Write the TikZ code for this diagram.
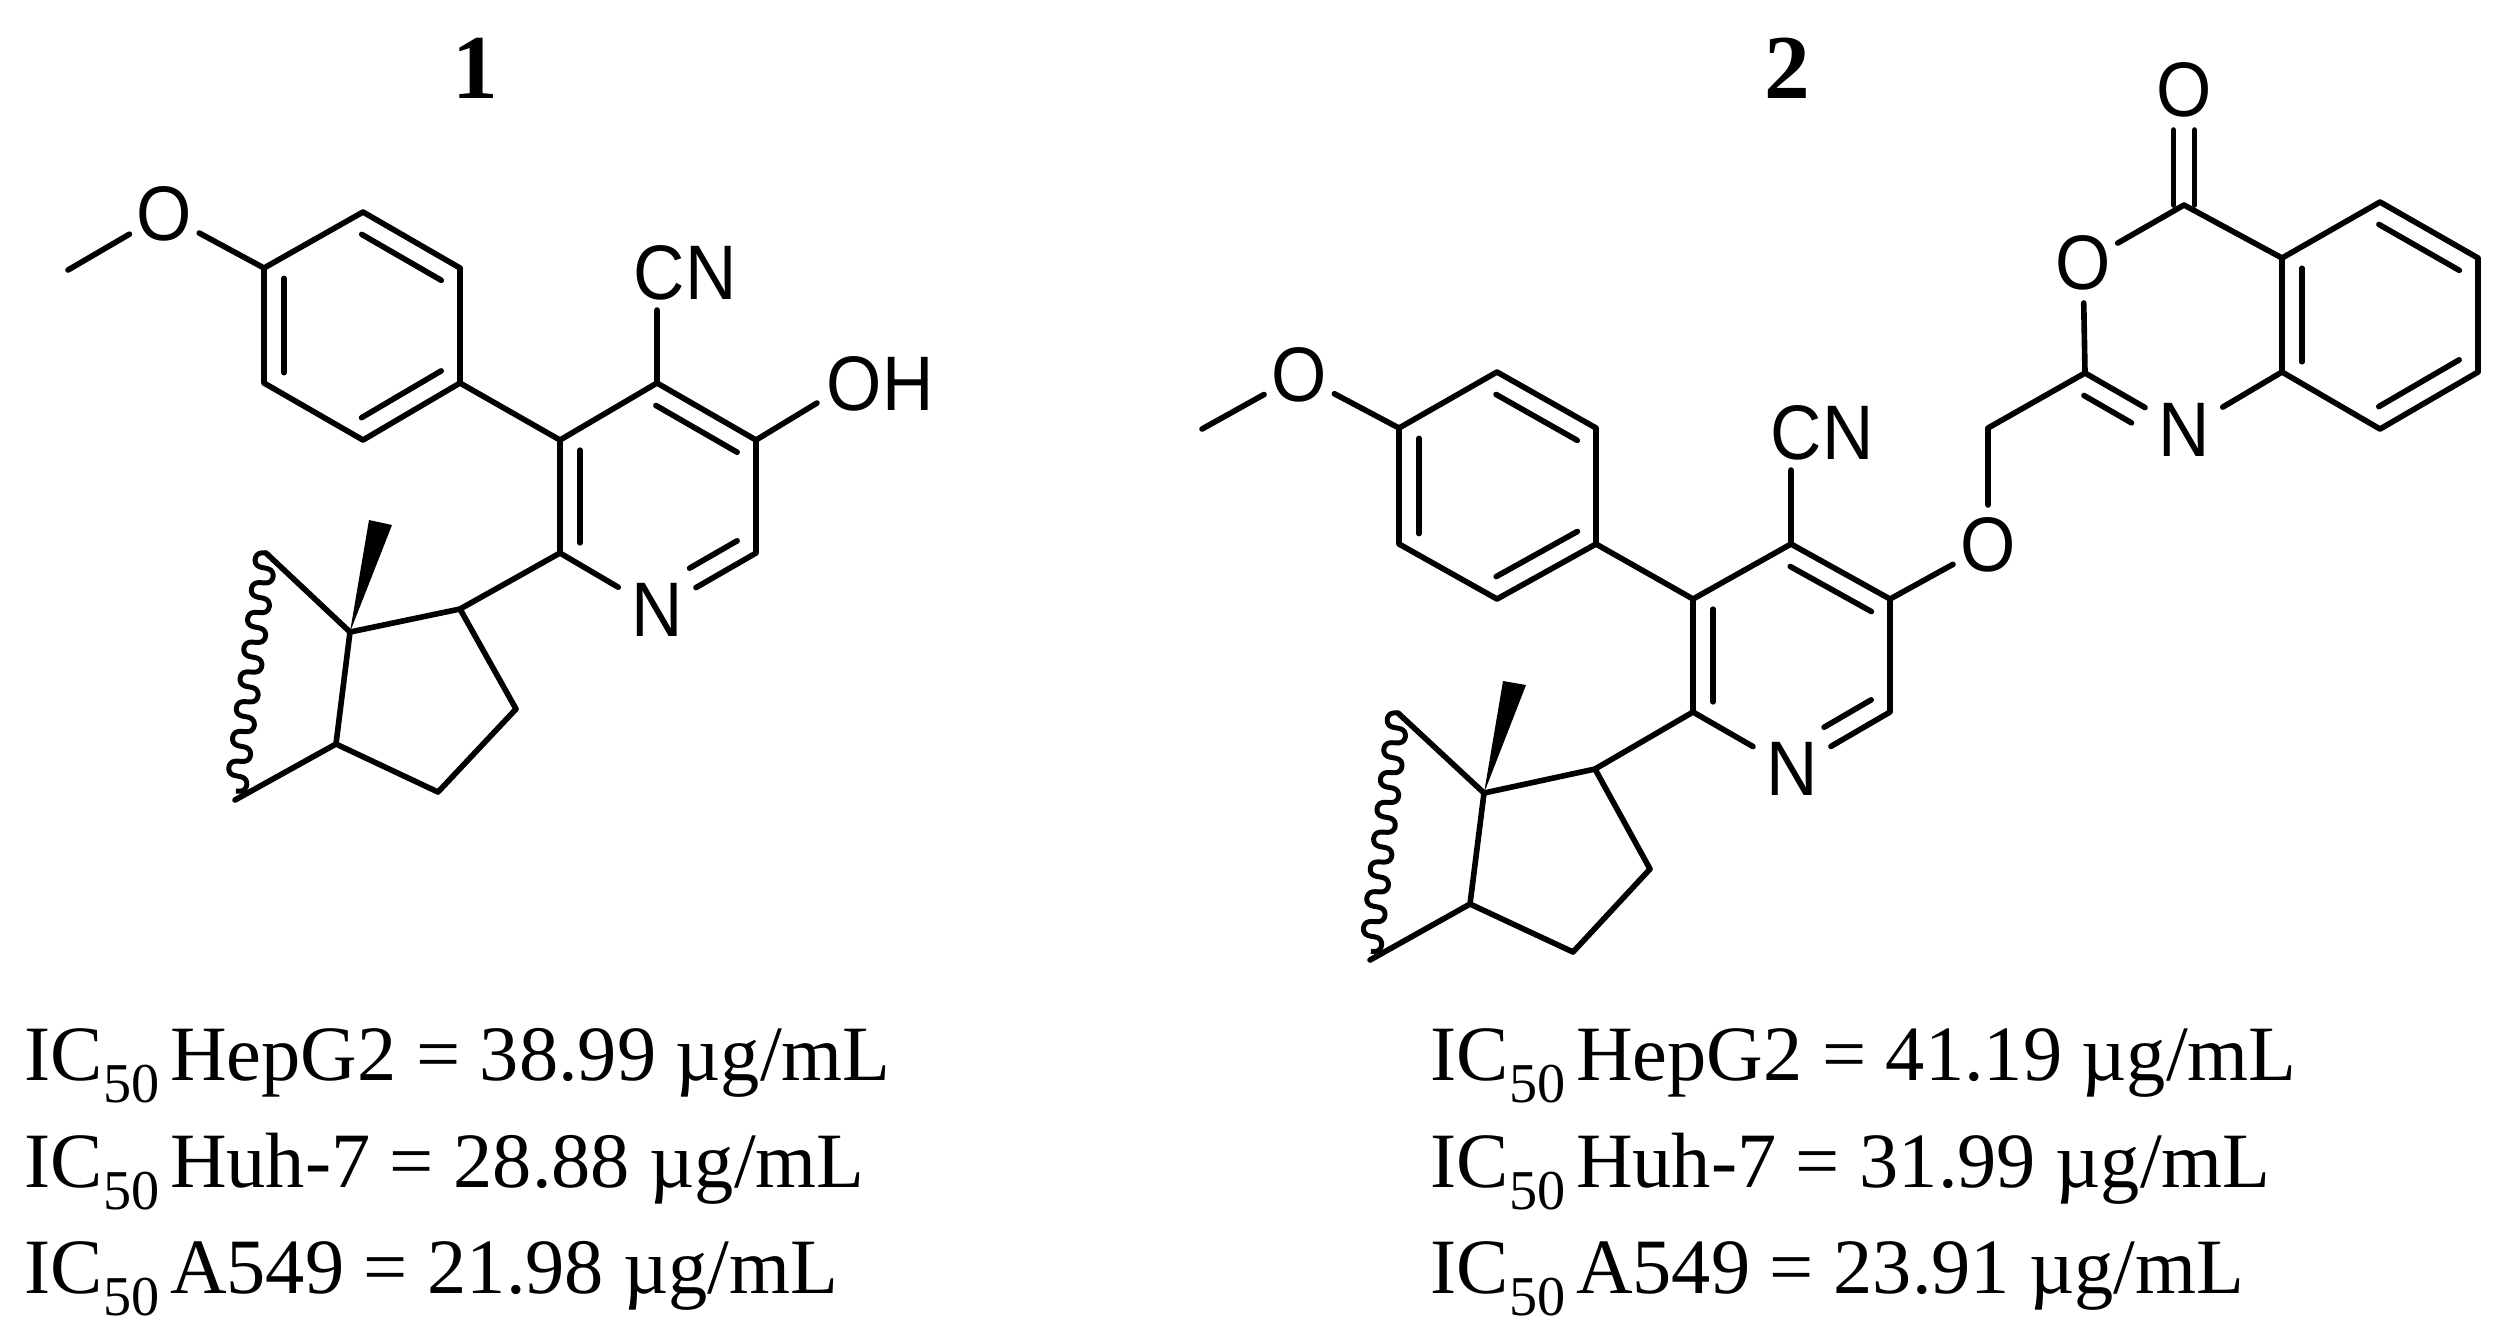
\documentclass[tikz,border=0pt]{standalone}
\usepackage{fontspec}
\setmainfont{Liberation Serif}
\newfontfamily\atomfont[FakeStretch=0.92]{Liberation Sans}
\usetikzlibrary{calc}
\tikzset{
  bond/.style={line width=1.6pt, line cap=round, line join=round},
  wavy/.style={line width=1.4pt, line join=round},
  atom/.style={circle, inner sep=0pt, outer sep=0pt, minimum size=8mm, font=\atomfont\fontsize{22}{22}\selectfont},
  group/.style={inner sep=0pt, font=\atomfont\fontsize{22}{22}\selectfont},
  title/.style={inner sep=0pt, font=\bfseries\fontsize{26}{26}\selectfont},
  ictext/.style={anchor=base west, inner sep=0pt, font=\fontsize{22.3}{22.3}\selectfont},
}
\newcommand{\icfifty}{IC\raisebox{-6.5pt}{\fontsize{16}{16}\selectfont 50}\hspace{-2.5pt}}
% second line of a double bond, a to b clockwise round the ring
\newcommand{\innerbond}[3][.09]{\draw[bond] ($(#2)!.09!(#3)!2mm!-90:(#3)$) -- ($(#3)!#1!(#2)!2mm!90:(#2)$);}
% cut mark: from a coordinate, at an angle
\newcommand{\cutmark}[2]{\draw[wavy, shift={(#1)}, rotate=#2] plot[smooth, domain=0:2880, samples=193] ({0.0833*\x-2.2*sin(2*\x)},{10*sin(\x)});}

\begin{document}
\begin{tikzpicture}[x=0.1mm, y=-0.1mm]
  \useasboundingbox (0,0) rectangle (2501,1337);

  \node[title] (t1) at (475,68) {1};
  \node[title] (t2) at (1787,68) {2};

  % compound 1
  \node[atom] (aO) at (164,214) {O};
  \node[atom, minimum size=9mm] (aN) at (657,610) {N};
  \node[group] (aCN) at (685,273) {CN};
  \node[group] (aOH) at (880,384) {OH};
  \coordinate (aMe) at (68,270);
  \coordinate (ar1) at (264,268);
  \coordinate (ar2) at (363,212);
  \coordinate (ar3) at (460,268);
  \coordinate (ar4) at (460,383);
  \coordinate (ar5) at (363,440);
  \coordinate (ar6) at (264,383);
  \coordinate (ap1) at (560,440);
  \coordinate (ap2) at (657,383);
  \coordinate (ap3) at (756,440);
  \coordinate (ap4) at (756,553);
  \coordinate (ap6) at (560,553);
  \coordinate (acnend) at (657,310);
  \coordinate (aohend) at (817,403);
  \coordinate (ac1) at (460,609);
  \coordinate (ac2) at (516,709);
  \coordinate (ac3) at (438,792);
  \coordinate (ac4) at (336,744);
  \coordinate (ac5) at (350,632);
  \coordinate (aw1) at (369,520);
  \coordinate (aw2) at (392,525);
  \coordinate (at1) at (266,553);
  \coordinate (at2) at (235,800);

  \draw[bond] (aMe) -- (aO) (aO) -- (ar1) (ar1) -- (ar2) (ar2) -- (ar3) (ar3) -- (ar4)
        (ar4) -- (ar5) (ar5) -- (ar6) (ar6) -- (ar1) (ar4) -- (ap1) (ap1) -- (ap2)
        (ap2) -- (ap3) (ap3) -- (ap4) (ap4) -- (aN) (aN) -- (ap6) (ap6) -- (ap1)
        (ap2) -- (acnend) (ap3) -- (aohend) (ap6) -- (ac1) (ac1) -- (ac2) (ac2) -- (ac3)
        (ac3) -- (ac4) (ac4) -- (ac5) (ac5) -- (ac1) (ac5) -- (at1) (ac4) -- (at2);
  \innerbond{ar2}{ar3}
  \innerbond{ar4}{ar5}
  \innerbond{ar6}{ar1}
  \innerbond{ap2}{ap3}
  \innerbond[.43]{ap4}{aN}
  \innerbond{ap6}{ap1}
  \fill (ac5) -- (aw1) -- (aw2) -- cycle;
  \cutmark{at1}{-97.2}

  % compound 2
  \node[atom] (bO) at (1299,375) {O};
  \node[atom, minimum size=9mm] (bN) at (1792,769) {N};
  \node[group] (bCN) at (1822,433) {CN};
  \node[atom] (bO2) at (1988,545) {O};
  \node[atom] (bO3) at (2083,263) {O};
  \node[atom] (bO4) at (2184,90) {O};
  \node[atom, minimum size=9mm] (bN2) at (2184,430) {N};
  \coordinate (bMe) at (1202,429);
  \coordinate (br1) at (1399,428);
  \coordinate (br2) at (1497,372);
  \coordinate (br3) at (1596,428);
  \coordinate (br4) at (1596,544);
  \coordinate (br5) at (1497,599);
  \coordinate (br6) at (1399,544);
  \coordinate (bp1) at (1693,599);
  \coordinate (bp2) at (1791,544);
  \coordinate (bp3) at (1890,599);
  \coordinate (bp4) at (1890,712);
  \coordinate (bp6) at (1693,712);
  \coordinate (bcnend) at (1791,470);
  \coordinate (bch) at (1988,428);
  \coordinate (bq1) at (2085,373);
  \coordinate (bq2) at (2184,205);
  \coordinate (bq3) at (2282,258);
  \coordinate (bq4) at (2282,372);
  \coordinate (bz1) at (2380,202);
  \coordinate (bz2) at (2478,258);
  \coordinate (bz3) at (2478,372);
  \coordinate (bz4) at (2380,429);
  \coordinate (bc1) at (1595,769);
  \coordinate (bc2) at (1650,869);
  \coordinate (bc3) at (1573,952);
  \coordinate (bc4) at (1470,904);
  \coordinate (bc5) at (1484,793);
  \coordinate (bw1) at (1503,681);
  \coordinate (bw2) at (1526,685);
  \coordinate (bt1) at (1398,713);
  \coordinate (bt2) at (1370,960);

  \draw[bond] (bMe) -- (bO) (bO) -- (br1) (br1) -- (br2) (br2) -- (br3) (br3) -- (br4)
        (br4) -- (br5) (br5) -- (br6) (br6) -- (br1) (br4) -- (bp1) (bp1) -- (bp2)
        (bp2) -- (bp3) (bp3) -- (bp4) (bp4) -- (bN) (bN) -- (bp6) (bp6) -- (bp1)
        (bp2) -- (bcnend) (bp3) -- (bO2) (bO2) -- (bch) (bch) -- (bq1) (bq1) -- (bO3)
        (bO3) -- (bq2) (bq2) -- (bq3) (bq3) -- (bq4) (bq4) -- (bN2) (bN2) -- (bq1)
        (bq3) -- (bz1) (bz1) -- (bz2) (bz2) -- (bz3) (bz3) -- (bz4) (bz4) -- (bq4)
        (bp6) -- (bc1) (bc1) -- (bc2) (bc2) -- (bc3) (bc3) -- (bc4) (bc4) -- (bc5)
        (bc5) -- (bc1) (bc5) -- (bt1) (bc4) -- (bt2);
  \draw[bond] ([xshift=-1.05mm]bq2) -- ([xshift=-1.05mm]bO4.south -| bq2);
  \draw[bond] ([xshift=1.05mm]bq2) -- ([xshift=1.05mm]bO4.south -| bq2);
  \innerbond{br2}{br3}
  \innerbond{br4}{br5}
  \innerbond{br6}{br1}
  \innerbond{bp2}{bp3}
  \innerbond[.43]{bp4}{bN}
  \innerbond{bp6}{bp1}
  \innerbond{bz1}{bz2}
  \innerbond{bz3}{bz4}
  \innerbond{bq4}{bq3}
  \innerbond[.43]{bq1}{bN2}
  \fill (bc5) -- (bw1) -- (bw2) -- cycle;
  \cutmark{bt1}{-96.5}

  % activities
  \node[ictext] (a1) at (24,1080) {\icfifty{} HepG2 = 38.99 µg/mL};
  \node[ictext] (a2) at (24,1187) {\icfifty{} Huh-7 = 28.88 µg/mL};
  \node[ictext] (a3) at (24,1293) {\icfifty{} A549 = 21.98 µg/mL};
  \node[ictext] (b1) at (1430,1080) {\icfifty{} HepG2 = 41.19 µg/mL};
  \node[ictext] (b2) at (1430,1187) {\icfifty{} Huh-7 = 31.99 µg/mL};
  \node[ictext] (b3) at (1430,1293) {\icfifty{} A549 = 23.91 µg/mL};
\end{tikzpicture}
\end{document}
